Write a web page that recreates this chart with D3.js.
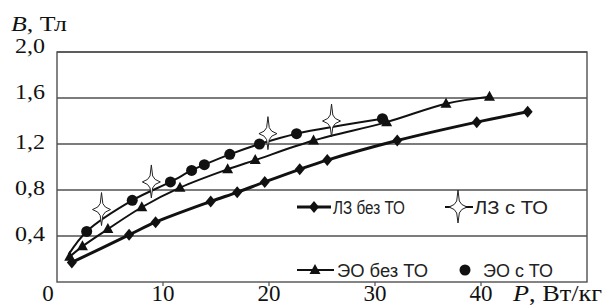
<!DOCTYPE html>
<html>
<head>
<meta charset="utf-8">
<script src="https://cdn.jsdelivr.net/npm/d3@7"></script>
<style>
  body { margin: 0; background: #fff; }
  .serif { font-family: "Liberation Serif", "Times New Roman", serif; fill: #111; }
  .leg { font-family: "Liberation Sans Narrow", "Liberation Sans", sans-serif; fill: #222; }
</style>
</head>
<body>
<div id="chart"></div>
<script>
// ЛЗ без ТО (diamonds)
var lzNoP = [1.4, 6.8, 9.3, 14.5, 17.0, 19.6, 22.9, 25.5, 32.1, 39.6, 44.4];
var lzNoB = [0.17, 0.41, 0.52, 0.70, 0.78, 0.87, 0.98, 1.06, 1.23, 1.39, 1.48];
// ЛЗ с ТО (stars)
var lzToP = [4.2, 8.9, 19.9, 25.9];
var lzToB = [0.63, 0.87, 1.29, 1.40];
// ЭО без ТО (triangles)
var eoNoP = [1.2, 2.4, 4.8, 8.0, 11.6, 16.1, 18.7, 24.2, 31.1, 36.7, 40.8];
var eoNoB = [0.22, 0.31, 0.46, 0.65, 0.82, 0.98, 1.06, 1.23, 1.39, 1.55, 1.61];
// ЭО с ТО (circles)
var eoToP = [2.8, 7.1, 10.7, 12.7, 13.9, 16.3, 19.1, 22.6, 30.7];
var eoToB = [0.44, 0.71, 0.87, 0.97, 1.02, 1.11, 1.20, 1.29, 1.42];
// line drawn along the circles (starts lower left)
var trendP = [1.1, 2.8, 7.1, 10.7, 12.7, 13.9, 16.3, 19.1, 22.6, 30.7];
var trendB = [0.24, 0.44, 0.71, 0.87, 0.97, 1.02, 1.11, 1.20, 1.29, 1.42];

var yTicks = [0.4, 0.8, 1.2, 1.6, 2.0];
var yTickLabels = ["0,4", "0,8", "1,2", "1,6", "2,0"];
var xTicks = [10, 20, 30, 40];

var svgWidth = 605, svgHeight = 306;
var plot = { left: 57, right: 587, top: 52, bottom: 282 };

var svg = d3.select("#chart").append("svg")
    .attr("width", svgWidth)
    .attr("height", svgHeight);

var x = d3.scaleLinear().domain([0, 50]).range([plot.left, plot.right]);
var y = d3.scaleLinear().domain([0, 2]).range([plot.bottom, plot.top]);

function pts(ps, bs) {
    return ps.map(function(p, i) { return [p, bs[i]]; });
}

// gridlines
svg.append("g").selectAll("line")
    .data(yTicks)
    .enter().append("line")
    .attr("x1", plot.left).attr("x2", plot.right)
    .attr("y1", d => y(d)).attr("y2", d => y(d))
    .attr("stroke", "#505050")
    .attr("stroke-width", 1.4);

// frame
svg.append("rect")
    .attr("x", plot.left).attr("y", plot.top)
    .attr("width", plot.right - plot.left).attr("height", plot.bottom - plot.top)
    .attr("fill", "none")
    .attr("stroke", "#505050")
    .attr("stroke-width", 1.4);

// x ticks
svg.append("g").selectAll("line")
    .data(xTicks)
    .enter().append("line")
    .attr("x1", d => x(d)).attr("x2", d => x(d))
    .attr("y1", plot.bottom).attr("y2", plot.bottom + 4)
    .attr("stroke", "#505050")
    .attr("stroke-width", 1.2);

// y labels
var yOff = [5, 5, 5, 1, 1];
svg.append("g").selectAll("text")
    .data(yTicks)
    .enter().append("text")
    .attr("class", "serif")
    .attr("x", 45)
    .attr("y", (d, i) => y(d) + yOff[i])
    .attr("text-anchor", "end")
    .attr("font-size", 21)
    .attr("textLength", 30)
    .attr("lengthAdjust", "spacingAndGlyphs")
    .text((d, i) => yTickLabels[i]);

// x labels
svg.append("text").attr("class", "serif")
    .attr("x", 48).attr("y", 301)
    .attr("text-anchor", "middle").attr("font-size", 23)
    .text("0");
svg.append("g").selectAll("text")
    .data(xTicks)
    .enter().append("text")
    .attr("class", "serif")
    .attr("x", d => x(d))
    .attr("y", 301)
    .attr("text-anchor", "middle")
    .attr("font-size", 23)
    .text(d => d);

var pLabel = svg.append("text").attr("class", "serif")
    .attr("x", 513).attr("y", 301).attr("font-size", 24)
    .attr("textLength", 89).attr("lengthAdjust", "spacingAndGlyphs");
pLabel.append("tspan").attr("font-style", "italic").text("P");
pLabel.append("tspan").text(", Вт/кг");

var bLabel = svg.append("text").attr("class", "serif")
    .attr("x", 11).attr("y", 31).attr("font-size", 21)
    .attr("textLength", 56).attr("lengthAdjust", "spacingAndGlyphs");
bLabel.append("tspan").attr("font-style", "italic").text("B");
bLabel.append("tspan").text(", Тл");

// lines
var line = d3.line()
    .x(d => x(d[0]))
    .y(d => y(d[1]))
    .curve(d3.curveCatmullRom.alpha(0.5));

svg.append("path")
    .datum(pts(lzNoP, lzNoB))
    .attr("d", line)
    .attr("fill", "none")
    .attr("stroke", "#111")
    .attr("stroke-width", 3);

svg.append("path")
    .datum(pts(eoNoP, eoNoB))
    .attr("d", line)
    .attr("fill", "none")
    .attr("stroke", "#111")
    .attr("stroke-width", 2);

svg.append("path")
    .datum(pts(trendP, trendB))
    .attr("d", line)
    .attr("fill", "none")
    .attr("stroke", "#111")
    .attr("stroke-width", 2);

// markers
var diamond = "M0,-6L5,0L0,6L-5,0Z";
var triangle = "M0,-6L5.5,4L-5.5,4Z";
var star = "M0,-17L1.3,-6Q2.5,-2 9,0Q2.5,2 1.3,6L0,16L-1.3,6Q-2.5,2 -9,0Q-2.5,-2 -1.3,-6Z";

svg.append("g").selectAll("path")
    .data(pts(lzNoP, lzNoB))
    .enter().append("path")
    .attr("d", diamond)
    .attr("transform", d => `translate(${x(d[0])},${y(d[1])})`)
    .attr("fill", "#111");

svg.append("g").selectAll("path")
    .data(pts(eoNoP, eoNoB))
    .enter().append("path")
    .attr("d", triangle)
    .attr("transform", d => `translate(${x(d[0])},${y(d[1])})`)
    .attr("fill", "#111");

svg.append("g").selectAll("circle")
    .data(pts(eoToP, eoToB))
    .enter().append("circle")
    .attr("cx", d => x(d[0]))
    .attr("cy", d => y(d[1]))
    .attr("r", 5.5)
    .attr("fill", "#111");

svg.append("g").selectAll("path")
    .data(pts(lzToP, lzToB))
    .enter().append("path")
    .attr("d", star)
    .attr("transform", d => `translate(${x(d[0])},${y(d[1])})`)
    .attr("fill", "#fff")
    .attr("stroke", "#222")
    .attr("stroke-width", 1);

// legend
var leg = svg.append("g");
// row 1
leg.append("line").attr("x1", 297).attr("x2", 331).attr("y1", 207).attr("y2", 207)
    .attr("stroke", "#111").attr("stroke-width", 3);
leg.append("path").attr("d", diamond).attr("transform", "translate(314,207)").attr("fill", "#111");
leg.append("text").attr("class", "leg").attr("x", 333).attr("y", 213.5)
    .attr("font-size", 18).attr("textLength", 72).attr("lengthAdjust", "spacingAndGlyphs")
    .text("ЛЗ без ТО");
leg.append("line").attr("x1", 445).attr("x2", 473).attr("y1", 207).attr("y2", 207)
    .attr("stroke", "#111").attr("stroke-width", 2);
leg.append("path").attr("d", star).attr("transform", "translate(458,207)")
    .attr("fill", "#fff").attr("stroke", "#222").attr("stroke-width", 1);
leg.append("line").attr("x1", 466).attr("x2", 473).attr("y1", 207).attr("y2", 207)
    .attr("stroke", "#111").attr("stroke-width", 2);
leg.append("text").attr("class", "leg").attr("x", 474).attr("y", 213.5)
    .attr("font-size", 18).attr("textLength", 74).attr("lengthAdjust", "spacingAndGlyphs")
    .text("ЛЗ с ТО");
// row 2
leg.append("line").attr("x1", 297).attr("x2", 334).attr("y1", 270).attr("y2", 270)
    .attr("stroke", "#111").attr("stroke-width", 2);
leg.append("path").attr("d", triangle).attr("transform", "translate(315,270)").attr("fill", "#111");
leg.append("text").attr("class", "leg").attr("x", 337).attr("y", 276.5)
    .attr("font-size", 18).attr("textLength", 91).attr("lengthAdjust", "spacingAndGlyphs")
    .text("ЭО без ТО");
leg.append("circle").attr("cx", 465).attr("cy", 270).attr("r", 5.5).attr("fill", "#111");
leg.append("text").attr("class", "leg").attr("x", 483).attr("y", 276.5)
    .attr("font-size", 18).attr("textLength", 70).attr("lengthAdjust", "spacingAndGlyphs")
    .text("ЭО с ТО");
</script>
</body>
</html>
